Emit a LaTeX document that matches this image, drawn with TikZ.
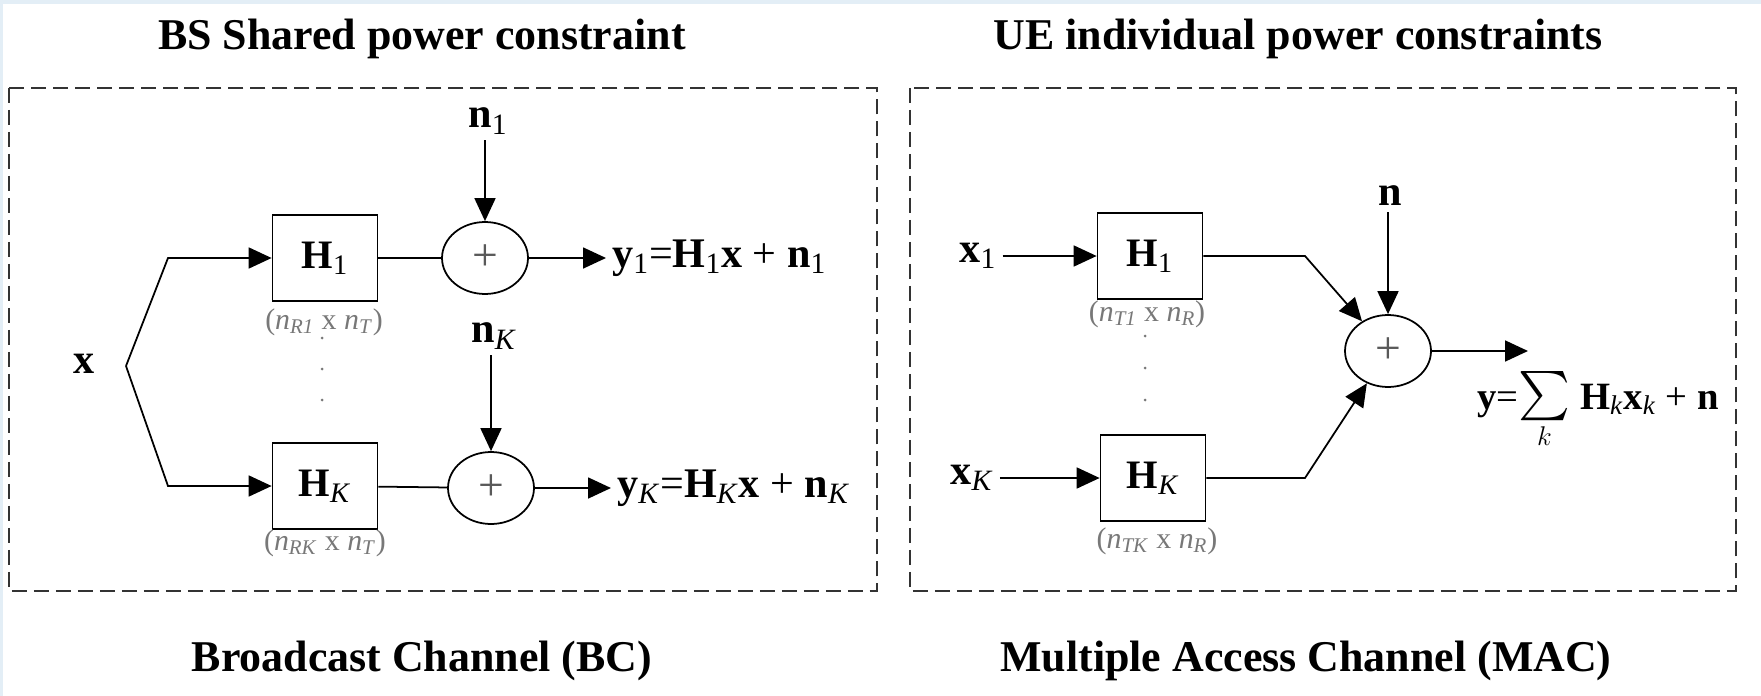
\documentclass[tikz,border=0pt]{standalone}
\usepackage{fix-cm}
\usepackage{exscale}
\usepackage[no-math]{fontspec}
\setmainfont{Liberation Serif}
\usetikzlibrary{arrows.meta, shapes.geometric, positioning}

\definecolor{pagebg}{RGB}{227,238,246}
\definecolor{dimgray}{RGB}{120,120,120}

\begin{document}
\begin{tikzpicture}[x=0.02cm, y=-0.02cm,
    >={Triangle[length=0.46cm,width=0.42cm]},
    wire/.style={line width=1pt},
    chan/.style={draw, line width=1pt, minimum width=2.1cm, minimum height=1.72cm,
                 inner sep=0, font=\fontsize{23}{26}\selectfont},
    adder/.style={draw, ellipse, line width=1pt, minimum width=1.72cm, minimum height=1.44cm,
                  inner sep=0, font=\fontsize{26}{28}\selectfont, text=black!65},
    sig/.style={font=\fontsize{24}{28}\selectfont, inner sep=0.12cm},
    dimlbl/.style={font=\fontsize{17}{19}\selectfont, text=dimgray, inner sep=0},
    ttl/.style={font=\fontsize{25}{30}\selectfont\bfseries, anchor=base},
    frame/.style={draw=black!80, line width=1pt, dash pattern=on 0.3cm off 0.14cm}]
\useasboundingbox (0,0) rectangle (1761,696);
\fill[white] (0,0) rectangle (1761,696);
\fill[pagebg] (0,0) rectangle (1761,4);
\fill[pagebg] (0,0) rectangle (3,696);

% titles
\node[ttl] (tBS) at (422,50) {BS Shared power constraint};
\node[ttl] (tUE) at (1298,50) {UE individual power constraints};
\node[ttl] (tBC) at (422,671) {Broadcast Channel (BC)};
\node[ttl] (tMAC) at (1306,671) {Multiple Access Channel (MAC)};

\draw[frame] (9,88) rectangle (877,591);
\draw[frame] (910,88) rectangle (1736,591);

% broadcast channel
\node[sig] (xin) at (84,364) {\textbf{x}};
\coordinate (fk) at (126,366);
\coordinate (fu) at (168,258);
\coordinate (fd) at (168,486);
\node[chan] (hA) at (325,258) {\textbf{H}\textsubscript{1}};
\node[chan] (hB) at (325,486) {\textbf{H}\textsubscript{\textit{K}}};
\node[dimlbl] (dA) at (324,322) {(\textit{n}\textsubscript{\textit{R1}} x \textit{n}\textsubscript{\textit{T}})};
\node[dimlbl] (dB) at (325,543) {(\textit{n}\textsubscript{\textit{RK}} x \textit{n}\textsubscript{\textit{T}})};
\foreach \yy in {338,369,400}
    \fill[dimgray] (322,\yy) circle (0.03cm);
\node[adder] (sA) at (485,258) {+};
\node[adder] (sB) at (491,488) {+};
\node[sig] (nA) at (488,121) {\textbf{n}\textsubscript{1}};
\node[sig] (nB) at (494,336) {\textbf{n}\textsubscript{\textit{K}}};
\node[sig, anchor=west] (yA) at (606,258)
    {\textbf{y}\textsubscript{1}=\textbf{H}\textsubscript{1}\textbf{x} + \textbf{n}\textsubscript{1}};
\node[sig, anchor=west] (yB) at (611,488)
    {\textbf{y}\textsubscript{\textit{K}}=\textbf{H}\textsubscript{\textit{K}}\textbf{x} + \textbf{n}\textsubscript{\textit{K}}};
\draw[wire,->] (fk) -- (fu) -- (hA);
\draw[wire,->] (fk) -- (fd) -- (hB);
\draw[wire] (hA) -- (sA);
\draw[wire] (hB) -- (sB);
\draw[wire,->] (nA.south -| sA.north) -- (sA.north);
\draw[wire,->] (nB.south -| sB.north) -- (sB.north);
\draw[wire,->] (sA) -- (yA);
\draw[wire,->] (sB) -- (yB);

% multiple access channel
\node[sig] (xA) at (978,256) {\textbf{x}\textsubscript{1}};
\node[sig] (xB) at (972,478) {\textbf{x}\textsubscript{\textit{K}}};
\node[chan] (hC) at (1150,256) {\textbf{H}\textsubscript{1}};
\node[chan] (hD) at (1153,478) {\textbf{H}\textsubscript{\textit{K}}};
\node[dimlbl] (dC) at (1147,314) {(\textit{n}\textsubscript{\textit{T1}} x \textit{n}\textsubscript{\textit{R}})};
\node[dimlbl] (dD) at (1157,541) {(\textit{n}\textsubscript{\textit{TK}} x \textit{n}\textsubscript{\textit{R}})};
\foreach \yy in {336,368,400}
    \fill[dimgray] (1145,\yy) circle (0.03cm);
\node[adder] (sC) at (1388,351) {+};
\node[sig] (nC) at (1390,196) {\textbf{n}};
\coordinate (kC) at (1305,256);
\coordinate (kD) at (1305,478);
\coordinate (oC) at (1528,351);
\node[sig, anchor=base, font=\fontsize{22}{26}\selectfont] (yC) at (1598,409)
    {\textbf{y}=$\mathop{\scalebox{1.35}{$\sum$}}\limits_{k}$ \textbf{H}\textsubscript{\textit{k}}\textbf{x}\textsubscript{\textit{k}} + \textbf{n}};
\draw[wire,->] (xA) -- (hC);
\draw[wire,->] (xB) -- (hD);
\draw[wire,->] (hC) -- (kC) -- (sC);
\draw[wire,->] (hD) -- (kD) -- (sC);
\draw[wire,->] (nC.south -| sC.north) -- (sC.north);
\draw[wire,->] (sC) -- (oC);
\end{tikzpicture}
\end{document}
